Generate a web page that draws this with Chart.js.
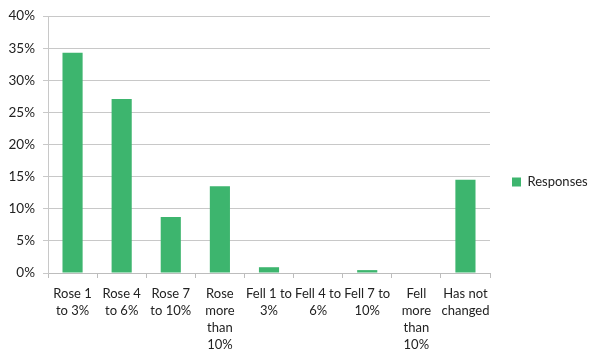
<!DOCTYPE html>
<html><head><meta charset="utf-8">
<script src="https://cdn.jsdelivr.net/npm/chart.js@4"></script>
<style>html,body{margin:0;padding:0;background:#fff}#w{width:600px;height:362px}</style>
</head><body><div id="w"><canvas id="c"></canvas></div>
<script>
const categories = [
  ["Rose 1","to 3%"],["Rose 4","to 6%"],["Rose 7","to 10%"],["Rose","more","than","10%"],
  ["Fell 1 to","3%"],["Fell 4 to","6%"],["Fell 7 to","10%"],["Fell","more","than","10%"],["Has not","changed"]
];
const seriesName = "Responses";
const responses = [34.3, 27.1, 8.7, 13.5, 0.9, 0, 0.45, 0, 14.5];
const yTicks = [0,5,10,15,20,25,30,35,40];

const FONT = "Lato";
const legendWidth = {
  id: 'legendWidth',
  afterInit(chart) {
    const lg = chart.legend;
    const f = lg.fit.bind(lg);
    lg.fit = function () { f(); this.width = 110; this.right = this.left + 110; };
  },
  afterLayout(chart) {
    const lg = chart.legend;
    lg.top -= 6; lg.bottom -= 6;
  }
};
new Chart(document.getElementById('c'), {
  type: 'bar',
  data: { labels: categories, datasets: [{ label: seriesName, data: responses,
    backgroundColor: '#3db56e', borderWidth: 0, barPercentage: 0.41, categoryPercentage: 1 }] },
  options: {
    responsive: true, maintainAspectRatio: false, animation: false,
    layout: { padding: { top: 16, left: 2, right: 0, bottom: 2 } },
    plugins: {
      legend: { position: 'right', labels: { boxWidth: 9, boxHeight: 9, padding: 22,
        color: '#222', font: { family: FONT, size: 13 } } },
      tooltip: { enabled: false }
    },
    scales: {
      x: {
        afterFit: s => { s.height = 87; },
        grid: { drawOnChartArea: false, drawTicks: true, tickLength: 5, color: '#bdbdbd', offset: true },
        border: { color: '#bdbdbd' },
        ticks: { color: '#222', font: { family: FONT, size: 13, lineHeight: 1.31 }, maxRotation: 0, autoSkip: false, padding: 7 }
      },
      y: {
        min: 0, max: 40,
        afterBuildTicks: s => { s.ticks = yTicks.map(v => ({ value: v })); },
        afterFit: s => { s.width = 46; },
        grid: { color: '#c8c8c8', tickLength: 5 },
        border: { color: '#c8c8c8' },
        ticks: { color: '#222', font: { family: FONT, size: 13.5 }, padding: 8, callback: v => v + '%' }
      }
    }
  },
  plugins: [legendWidth]
});
</script></body></html>
